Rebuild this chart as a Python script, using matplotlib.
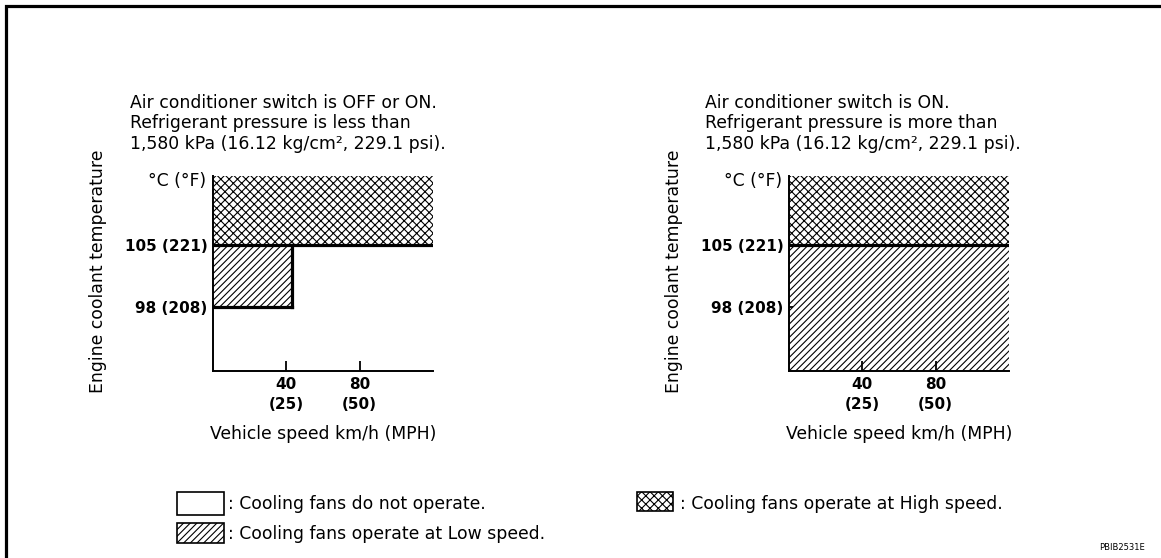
import matplotlib.pyplot as plt
from matplotlib.patches import Rectangle

plt.rcParams['font.family'] = ['DejaVu Sans']
plt.rcParams['hatch.linewidth'] = 0.8

W, H = 1161, 558

# axis ranges and ticks
speed_max = 120
temp_min, temp_max = 90.8, 112.8
speed_ticks_kmh = [40, 80]
speed_ticks_mph = [25, 50]
temp_ticks_c = [98, 105]
temp_ticks_f = [208, 221]

# fan modes per region: (speed from, speed to, temp from, temp to, mode)
left_regions = [
    (0, 43, 98, 105, 'low'),
    (0, 120, 105, temp_max, 'high'),
]
right_regions = [
    (0, 120, temp_min, 105, 'low'),
    (0, 120, 105, temp_max, 'high'),
]

left_title = [
    'Air conditioner switch is OFF or ON.',
    'Refrigerant pressure is less than',
    '1,580 kPa (16.12 kg/cm², 229.1 psi).',
]
right_title = [
    'Air conditioner switch is ON.',
    'Refrigerant pressure is more than',
    '1,580 kPa (16.12 kg/cm², 229.1 psi).',
]

legend_modes = ['off', 'low', 'high']
legend_texts = [
    ': Cooling fans do not operate.',
    ': Cooling fans operate at Low speed.',
    ': Cooling fans operate at High speed.',
]

hatches = {'off': '', 'low': '/////', 'high': 'xxxx'}
FS = 12.4
FS_BOLD = 11

fig = plt.figure(figsize=(W / 100, H / 100), dpi=100)


def px_axes(x0, y0, x1, y1):
    return fig.add_axes([x0 / W, 1 - y1 / H, (x1 - x0) / W, (y1 - y0) / H])


def draw_panel(ax, regions, title, title_x):
    for s0, s1, t0, t1, mode in regions:
        ax.fill_between([s0, s1], t0, t1, facecolor='white', edgecolor='black',
                        hatch=hatches[mode], linewidth=0, zorder=1)
        # region borders inside the plot
        if t0 > temp_min:
            ax.plot([s0, s1], [t0, t0], color='black', lw=2.3, zorder=3,
                    solid_capstyle='projecting')
        if s1 < speed_max:
            ax.plot([s1, s1], [t0, t1], color='black', lw=2.3, zorder=3,
                    solid_capstyle='projecting')

    ax.set_xlim(0, speed_max)
    ax.set_ylim(temp_min, temp_max)
    for side in ['top', 'right']:
        ax.spines[side].set_visible(False)
    for side in ['left', 'bottom']:
        ax.spines[side].set_linewidth(1.4)
        ax.spines[side].set_zorder(4)

    ax.set_xticks(speed_ticks_kmh,
                  labels=[f'{k}\n({m})' for k, m in zip(speed_ticks_kmh, speed_ticks_mph)],
                  fontsize=FS_BOLD, fontweight='bold', linespacing=1.45)
    ax.set_yticks(temp_ticks_c,
                  labels=[f'{c} ({f})' for c, f in zip(temp_ticks_c, temp_ticks_f)],
                  fontsize=FS_BOLD, fontweight='bold')
    ax.tick_params(axis='x', direction='in', length=7, width=1.3, pad=4)
    ax.tick_params(axis='y', direction='in', length=3, width=1.3, pad=4)

    ax.text(-0.03, 112.2, '°C (°F)', transform=ax.get_yaxis_transform(),
            ha='right', va='center', fontsize=FS)
    ax.text(-0.523, 0.51, 'Engine coolant temperature', transform=ax.transAxes,
            rotation=90, ha='center', va='center', fontsize=FS)
    ax.text(0.5, -0.322, 'Vehicle speed km/h (MPH)', transform=ax.transAxes,
            ha='center', va='center', fontsize=FS)

    for i, line in enumerate(title):
        fig.text(title_x / W, 1 - (103 + 20.5 * i) / H, line,
                 ha='left', va='center', fontsize=FS)


ax_l = px_axes(213, 176, 433, 371)
ax_r = px_axes(789, 176, 1009, 371)
draw_panel(ax_l, left_regions, left_title, 130)
draw_panel(ax_r, right_regions, right_title, 705)

# overlay in pixel units for the frame and the key
ov = fig.add_axes([0, 0, 1, 1])
ov.set_xlim(0, W)
ov.set_ylim(H, 0)
ov.axis('off')
ov.patch.set_visible(False)

ov.plot([6, 6, W + 5], [H + 5, 5.5, 5.5], color='black', lw=2.3,
        solid_joinstyle='miter')

swatches = [(177, 492, 47, 23), (177, 523, 47, 20), (637, 492, 36, 19)]
text_pos = [(228, 504), (228, 534), (680, 504)]
for mode, label, (x, y, w, h), (tx, ty) in zip(legend_modes, legend_texts,
                                                 swatches, text_pos):
    ov.add_patch(Rectangle((x, y), w, h, facecolor='white', edgecolor='black',
                           hatch=hatches[mode], lw=1.2))
    ov.text(tx, ty, label, ha='left', va='center', fontsize=FS)

ov.text(1145, 547, 'PBIB2531E', ha='right', va='center', fontsize=6)

fig.savefig('out.png', dpi=100)
